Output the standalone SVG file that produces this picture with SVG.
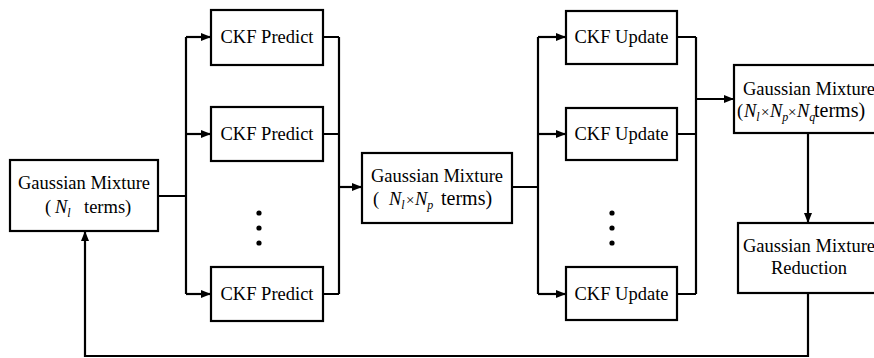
<svg xmlns="http://www.w3.org/2000/svg" width="874" height="358" viewBox="0 0 874 358" font-family="'Liberation Serif', 'Times New Roman', serif">
  <style>
    .box { fill: #fff; stroke: #000; stroke-width: 2.2; }
    text { font-family: 'Liberation Serif', 'Times New Roman', serif; font-size: 18.5px; fill: #000; }
    .mid { text-anchor: middle; }
    .m { font-style: italic; }
    .sub { font-style: italic; font-size: 12px; }
    .x { font-size: 15px; }
    .big { font-size: 20px; }
    .wire { fill: none; stroke: #000; stroke-width: 2.2; }
    .arr { fill: none; stroke: #000; stroke-width: 2.2; marker-end: url(#head); }
  </style>
  <defs>
    <marker id="head" viewBox="0 0 10 8" refX="10" refY="4" markerWidth="10" markerHeight="8" markerUnits="userSpaceOnUse" orient="auto">
      <path d="M0,0 L10,4 L0,8 Z" fill="#000"/>
    </marker>
  </defs>
  <rect width="874" height="358" fill="#fff"/>

  <g id="connectors">
    <!-- fan-out to predict branches -->
    <path class="wire" d="M158,196 H186 M186,37 V294"/>
    <path class="arr" d="M186,37 H211"/>
    <path class="arr" d="M186,134 H211"/>
    <path class="arr" d="M186,294 H211"/>
    <!-- fan-in from predict branches -->
    <path class="wire" d="M323,37 H339 M323,134 H339 M323,294 H339 M339,37 V294"/>
    <path class="arr" d="M339,187 H362"/>
    <!-- fan-out to update branches -->
    <path class="wire" d="M512,187 H538 M538,37 V294"/>
    <path class="arr" d="M538,37 H566"/>
    <path class="arr" d="M538,134 H566"/>
    <path class="arr" d="M538,294 H566"/>
    <!-- fan-in from update branches -->
    <path class="wire" d="M677,37 H696 M677,134 H696 M677,294 H696 M696,37 V294"/>
    <path class="arr" d="M696,99 H734"/>
    <!-- mixture to reduction -->
    <path class="arr" d="M808,133 V223"/>
    <!-- feedback loop -->
    <path class="arr" d="M808,293 V356 H85 V231"/>
  </g>

  <g id="mixture-in">
    <rect class="box" x="10" y="160" width="148" height="71"/>
    <text class="mid" x="84" y="189">Gaussian Mixture</text>
    <text x="45" y="213">(<tspan class="m" x="55">N</tspan><tspan class="sub" dy="4">l</tspan><tspan dy="-4" x="84">terms)</tspan></text>
  </g>

  <g id="predict-1">
    <rect class="box" x="211" y="10" width="112" height="55"/>
    <text class="mid" x="267" y="43">CKF Predict</text>
  </g>
  <g id="predict-2">
    <rect class="box" x="211" y="107" width="112" height="54"/>
    <text class="mid" x="267" y="140">CKF Predict</text>
  </g>
  <g id="predict-dots">
    <circle cx="259" cy="213" r="2.6"/>
    <circle cx="259" cy="228" r="2.6"/>
    <circle cx="259" cy="243" r="2.6"/>
  </g>
  <g id="predict-n">
    <rect class="box" x="211" y="267" width="112" height="54"/>
    <text class="mid" x="267" y="300">CKF Predict</text>
  </g>

  <g id="mixture-predicted">
    <rect class="box" x="362" y="153" width="150" height="70"/>
    <text class="mid" x="437" y="182">Gaussian Mixture</text>
    <text x="373" y="205">(<tspan class="m" x="389">N</tspan><tspan class="sub" dy="4">l</tspan><tspan class="x" dy="-4" x="406">×</tspan><tspan class="m" x="415">N</tspan><tspan class="sub" dy="4">p</tspan><tspan class="big" dy="-4" x="441">terms)</tspan></text>
  </g>

  <g id="update-1">
    <rect class="box" x="566" y="11" width="111" height="53"/>
    <text class="mid" x="621.5" y="43">CKF Update</text>
  </g>
  <g id="update-2">
    <rect class="box" x="566" y="108" width="111" height="52"/>
    <text class="mid" x="621.5" y="140">CKF Update</text>
  </g>
  <g id="update-dots">
    <circle cx="612" cy="213" r="2.6"/>
    <circle cx="612" cy="228" r="2.6"/>
    <circle cx="612" cy="243" r="2.6"/>
  </g>
  <g id="update-n">
    <rect class="box" x="566" y="267" width="111" height="53"/>
    <text class="mid" x="621.5" y="300">CKF Update</text>
  </g>

  <g id="mixture-updated">
    <rect class="box" x="734" y="65" width="160" height="68"/>
    <text x="743" y="95">Gaussian Mixture</text>
    <text x="737" y="117">(<tspan class="m" x="744">N</tspan><tspan class="sub" dy="4">l</tspan><tspan class="x" dy="-4" x="761">×</tspan><tspan class="m" x="770">N</tspan><tspan class="sub" dy="4">p</tspan><tspan class="x" dy="-4" x="788">×</tspan><tspan class="m" x="797">N</tspan><tspan class="sub" dy="4">q</tspan><tspan class="big" dy="-4" x="814">terms)</tspan></text>
  </g>

  <g id="mixture-reduction">
    <rect class="box" x="738" y="223" width="160" height="70"/>
    <text x="743" y="252">Gaussian Mixture</text>
    <text x="771" y="274">Reduction</text>
  </g>
</svg>
